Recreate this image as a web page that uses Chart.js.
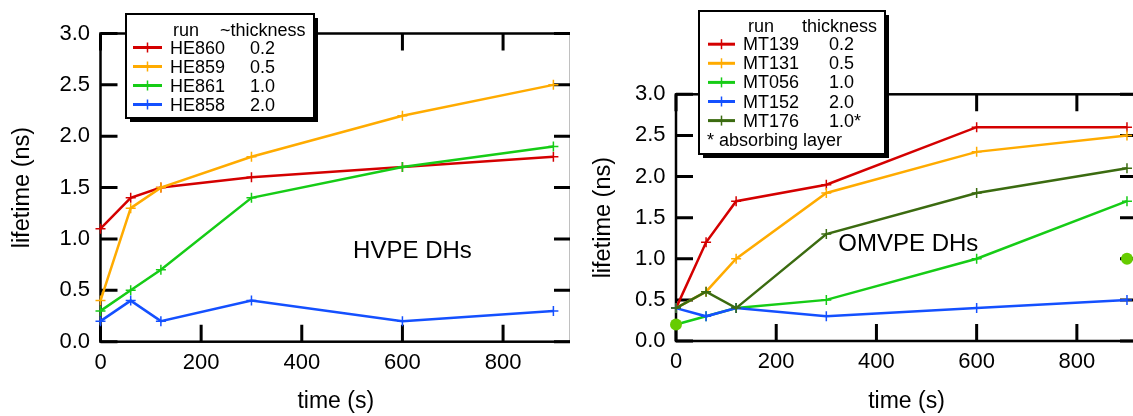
<!DOCTYPE html>
<html>
<head>
<meta charset="utf-8">
<title>Lifetime vs anneal time</title>
<script src="https://cdn.jsdelivr.net/npm/chart.js@4.4.1/dist/chart.umd.min.js"></script>
<style>
  html, body { margin: 0; padding: 0; background: #fff; }
  #page { position: relative; width: 1133px; height: 416px; overflow: hidden; }
  .panel { position: absolute; top: 0; height: 416px; overflow: hidden; }
  .panel canvas { position: absolute; left: 0; top: 0; }
</style>
</head>
<body>
<div id="page">
  <div class="panel" style="left:0;width:570px"><canvas id="hvpeChart" width="600" height="416" style="width:600px;height:416px"></canvas></div>
  <div class="panel" style="left:570px;width:563px"><canvas id="omvpeChart" width="600" height="416" style="width:600px;height:416px"></canvas></div>
</div>
<script>
// === DATA ===
// anneal times (s)
const times = [0, 60, 120, 300, 600, 900];

// HVPE double heterostructures
const heRuns = ['HE860', 'HE859', 'HE861', 'HE858'];
const heThickness = ['0.2', '0.5', '1.0', '2.0'];
const he860 = [1.1, 1.4, 1.5, 1.6, 1.7, 1.8];
const he859 = [0.4, 1.3, 1.5, 1.8, 2.2, 2.5];
const he861 = [0.3, 0.5, 0.7, 1.4, 1.7, 1.9];
const he858 = [0.2, 0.4, 0.2, 0.4, 0.2, 0.3];

// OMVPE double heterostructures
const mtRuns = ['MT139', 'MT131', 'MT056', 'MT152', 'MT176'];
const mtThickness = ['0.2', '0.5', '1.0', '2.0', '1.0*'];
const mt139 = [0.4, 1.2, 1.7, 1.9, 2.6, 2.6];
const mt131 = [0.4, 0.6, 1.0, 1.8, 2.3, 2.5];
const mt056 = [0.2, 0.3, 0.4, 0.5, 1.0, 1.7];
const mt152 = [0.4, 0.3, 0.4, 0.3, 0.4, 0.5];
const mt176 = [0.4, 0.6, 0.4, 1.3, 1.8, 2.1];

// single measurements shown as filled dots
const dotTimes = [0, 900];
const dotValues = [0.2, 1.0];

// axis ticks
const xTicks = [0, 200, 400, 600, 800];
const yTicks = [0, 0.5, 1.0, 1.5, 2.0, 2.5, 3.0];

// trace colours
const RED = '#d40000', ORANGE = '#ffab00', GREEN = '#16cc16', BLUE = '#1450ff', DKGREEN = '#3b6b10', DOT = '#66cc00';

Chart.defaults.font.family = '"Liberation Sans", Arial, Helvetica, sans-serif';
Chart.defaults.color = '#000';

function serie(vals, color, idx) {
    return {
        data: times.map((t, i) => ({ x: t, y: vals[i] })),
        borderColor: color,
        backgroundColor: color,
        borderWidth: 2.5,
        pointStyle: 'cross',
        pointRadius: 5,
        pointHoverRadius: 5,
        pointBorderWidth: 1.5,
        pointBorderColor: color,
        tension: 0,
        clip: false,
        order: -idx  // later traces on top
    };
}

// frame with inward ticks on all four sides
const framePlugin = {
    id: 'frame',
    beforeDatasetsDraw(chart) {
        const { ctx, chartArea: a, scales: { x, y } } = chart;
        const len = 17;
        ctx.save();
        ctx.strokeStyle = '#000';
        ctx.lineWidth = 2.5;
        ctx.strokeRect(a.left, a.top, a.right - a.left, a.bottom - a.top);
        ctx.lineWidth = 3;
        ctx.beginPath();
        x.ticks.forEach(t => {
            const px = x.getPixelForValue(t.value);
            ctx.moveTo(px, a.bottom); ctx.lineTo(px, a.bottom - len);
            ctx.moveTo(px, a.top); ctx.lineTo(px, a.top + len);
        });
        y.ticks.forEach(t => {
            const py = y.getPixelForValue(t.value);
            ctx.moveTo(a.left, py); ctx.lineTo(a.left + len, py);
            ctx.moveTo(a.right, py); ctx.lineTo(a.right - len, py);
        });
        ctx.stroke();
        ctx.restore();
    }
};

// boxed legend (run / thickness table) plus a text label inside the plot
const boxLegend = {
    id: 'boxLegend',
    afterDraw(chart, args, o) {
        const ctx = chart.ctx;
        const { x: xs, y: ys } = chart.scales;
        ctx.save();

        // in-plot label
        ctx.font = '24px "Liberation Sans", Arial, sans-serif';
        ctx.fillStyle = '#000';
        ctx.textBaseline = 'alphabetic';
        ctx.textAlign = 'left';
        ctx.fillText(o.label.text, xs.getPixelForValue(o.label.x), ys.getPixelForValue(o.label.y));

        // box with drop shadow
        ctx.fillStyle = '#000';
        ctx.fillRect(o.x + 4, o.y + 4, o.w, o.h);
        ctx.fillStyle = '#fff';
        ctx.fillRect(o.x, o.y, o.w, o.h);
        ctx.lineWidth = 2;
        ctx.strokeStyle = '#000';
        ctx.strokeRect(o.x, o.y, o.w, o.h);

        ctx.font = '18px "Liberation Sans", Arial, sans-serif';
        ctx.fillStyle = '#000';
        ctx.fillText(o.headers[0], o.headerX[0], o.headerY);
        ctx.fillText(o.headers[1], o.headerX[1], o.headerY);

        o.runs.forEach((run, i) => {
            const ds = chart.data.datasets[i];
            const base = o.rowY + i * o.rowStep;
            const ly = base - 6;
            const cx = (o.lineX[0] + o.lineX[1]) / 2;
            ctx.strokeStyle = ds.borderColor;
            ctx.lineWidth = 3;
            ctx.beginPath();
            ctx.moveTo(o.lineX[0], ly); ctx.lineTo(o.lineX[1], ly);
            ctx.stroke();
            ctx.lineWidth = 1.5;
            ctx.beginPath();
            ctx.moveTo(cx, ly - 5); ctx.lineTo(cx, ly + 5);
            ctx.stroke();
            ctx.fillStyle = '#000';
            ctx.fillText(run, o.nameX, base);
            ctx.fillText(o.values[i], o.valueX, base);
        });
        if (o.note) {
            ctx.fillText(o.note, o.noteX, o.rowY + o.runs.length * o.rowStep);
        }
        ctx.restore();
    }
};

function makeScales(xMax, yWidth, xHeight, yTitlePad) {
    return {
        x: {
            type: 'linear', min: 0, max: xMax,
            afterBuildTicks: s => { s.ticks = xTicks.map(v => ({ value: v })); },
            afterFit: s => { s.height = xHeight; },
            grid: { display: false, drawTicks: false },
            border: { display: false },
            ticks: { padding: 8, font: { size: 22 }, color: '#000' },
            title: { display: true, text: 'time (s)', font: { size: 23 }, color: '#000', padding: { top: 0, bottom: 1 } }
        },
        y: {
            type: 'linear', min: 0, max: 3,
            afterBuildTicks: s => { s.ticks = yTicks.map(v => ({ value: v })); },
            afterFit: s => { s.width = yWidth; },
            grid: { display: false, drawTicks: false },
            border: { display: false },
            ticks: { padding: 10.5, font: { size: 22 }, color: '#000', callback: v => v.toFixed(1) },
            title: { display: true, text: 'lifetime (ns)', font: { size: 23.5 }, color: '#000', padding: { top: yTitlePad, bottom: 0 } }
        }
    };
}

function baseOptions() {
    return {
        responsive: false,
        maintainAspectRatio: false,
        animation: false,
        events: [],
        plugins: { legend: { display: false }, tooltip: { enabled: false } }
    };
}

// === LEFT: HVPE ===
// right frame edge sits just past the panel edge, so only its ticks show
const optH = baseOptions();
optH.layout = { padding: { left: 0, right: 29, top: 33.5, bottom: 0 } };
optH.scales = makeScales(935, 100.5, 74.3, 8);
optH.plugins.boxLegend = {
    x: 126, y: 14, w: 188, h: 104,
    headers: ['run', '~thickness'], headerX: [173, 220], headerY: 35.5,
    runs: heRuns, values: heThickness,
    rowY: 53.5, rowStep: 19, lineX: [133, 162], nameX: 170, valueX: 250,
    label: { text: 'HVPE DHs', x: 502, y: 0.815 }
};
new Chart(document.getElementById('hvpeChart'), {
    type: 'line',
    data: {
        datasets: [
            serie(he860, RED, 0),
            serie(he859, ORANGE, 1),
            serie(he861, GREEN, 2),
            serie(he858, BLUE, 3)
        ]
    },
    options: optH,
    plugins: [framePlugin, boxLegend]
});

// === RIGHT: OMVPE ===
const optM = baseOptions();
optM.layout = { padding: { left: 0, right: 33, top: 94.3, bottom: 0 } };
optM.scales = makeScales(920, 106, 75, 19);
optM.plugins.boxLegend = {
    x: 129, y: 11, w: 186, h: 143,
    headers: ['run', 'thickness'], headerX: [178, 232], headerY: 31.5,
    runs: mtRuns, values: mtThickness,
    rowY: 50.2, rowStep: 19.1, lineX: [138, 165], nameX: 173, valueX: 259,
    note: '* absorbing layer', noteX: 137,
    label: { text: 'OMVPE DHs', x: 324, y: 1.09 }
};
new Chart(document.getElementById('omvpeChart'), {
    type: 'line',
    data: {
        datasets: [
            serie(mt139, RED, 0),
            serie(mt131, ORANGE, 1),
            serie(mt056, GREEN, 2),
            serie(mt152, BLUE, 3),
            serie(mt176, DKGREEN, 4),
            {
                data: dotTimes.map((t, i) => ({ x: t, y: dotValues[i] })),
                showLine: false,
                pointStyle: 'circle',
                pointRadius: 6,
                pointBorderWidth: 0,
                backgroundColor: DOT,
                borderColor: DOT,
                clip: false,
                order: -10
            }
        ]
    },
    options: optM,
    plugins: [framePlugin, boxLegend]
});
</script>
</body>
</html>
